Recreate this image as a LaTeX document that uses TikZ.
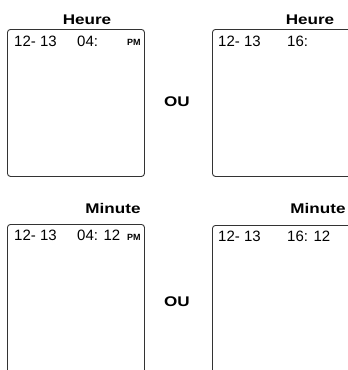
\documentclass[tikz,border=0pt]{standalone}
\usepackage{fontspec}
\setmainfont{Liberation Sans}
\usepackage{tikz}
\usetikzlibrary{positioning}
\tikzstyle{screen} = [rectangle, rounded corners=3pt, draw=black!80, line width=0.9pt, anchor=north west, inner sep=0pt]
\tikzstyle{title} = [font=\fontsize{14}{14}\selectfont\bfseries, xscale=1.22, transform shape, inner sep=0pt]
\tikzstyle{lcd} = [font=\fontsize{15}{15}\selectfont, anchor=base west, inner sep=0pt]
\tikzstyle{ampm} = [font=\fontsize{9}{9}\selectfont\bfseries, anchor=base west, inner sep=0pt]

\begin{document}
\begin{tikzpicture}[x=1pt, y=-1pt]
    \useasboundingbox (0,0) rectangle (348,370);
    \clip (0,0) rectangle (348,370);

    % top row: hour
    \node (hl) [screen, minimum width=137pt, minimum height=147pt] at (7,29) {};
    \node (hr) [screen, minimum width=150pt, minimum height=147pt] at (212,29) {};
    \node (hlt) [title] at (87,20) {Heure};
    \node (hrt) [title] at (310,20) {Heure};
    \node (ou1) [title] at (177,102) {OU};
    \node (hld) [lcd] at (14,46.5) {12- 13};
    \node (hlh) [lcd] at (77,46.5) {04:};
    \node (hlp) [ampm] at (127,45.5) {PM};
    \node (hrd) [lcd] at (218,46.5) {12- 13};
    \node (hrh) [lcd] at (287,46.5) {16:};

    % bottom row: minute
    \node (ml) [screen, minimum width=137pt, minimum height=160pt] at (7,224) {};
    \node (mr) [screen, minimum width=150pt, minimum height=160pt] at (212,225) {};
    \node (mlt) [title] at (113,208) {Minute};
    \node (mrt) [title] at (318,208) {Minute};
    \node (ou2) [title] at (177,302) {OU};
    \node (mld) [lcd] at (14,240.5) {12- 13};
    \node (mlh) [lcd] at (77,240.5) {04: 12};
    \node (mlp) [ampm] at (127,240.5) {PM};
    \node (mrd) [lcd] at (218,241) {12- 13};
    \node (mrh) [lcd] at (287,241) {16: 12};
\end{tikzpicture}
\end{document}
